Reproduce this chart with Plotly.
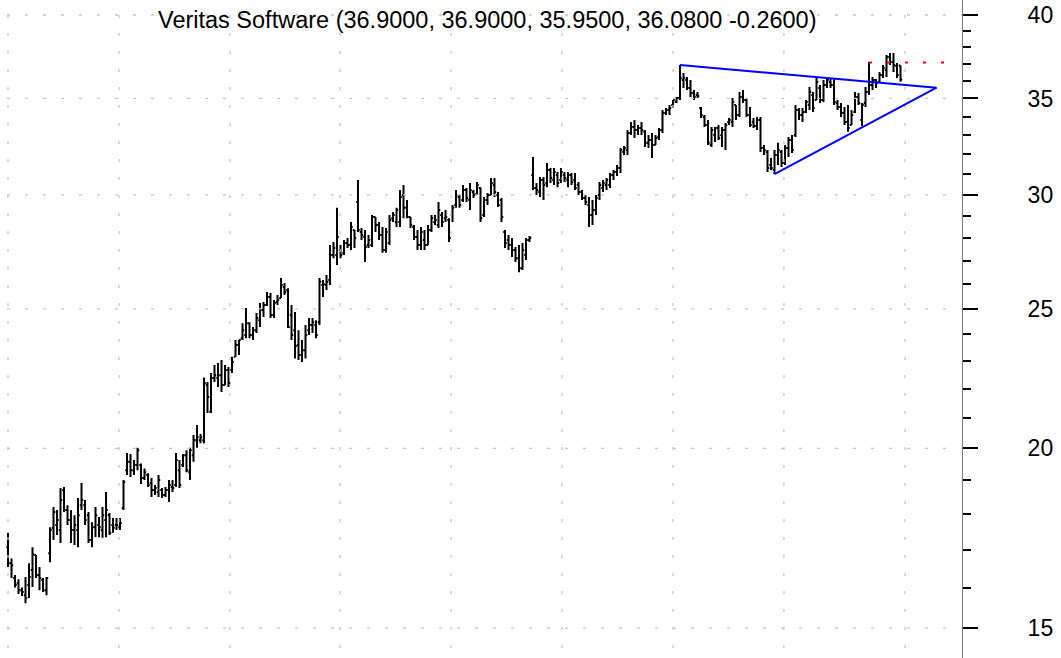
import math
import plotly.graph_objects as go

# ---------------- data ----------------
highs = [17.47,16.77,16.33,16.22,16.01,16.28,16.64,17.07,16.86,16.54,16.25,16.28,17.63,18.21,18.12,18.77,18.80,18.26,18.12,17.97,
         18.47,18.92,18.41,18.06,17.77,18.21,17.92,18.21,18.65,18.03,17.89,17.89,17.89,19.01,19.85,19.82,19.63,20.02,19.52,19.36,
         19.22,19.07,18.86,19.16,18.77,18.80,19.01,19.01,19.85,19.63,19.82,19.94,20.02,20.43,20.76,20.46,22.40,22.24,22.56,22.85,
         22.92,23.03,22.85,22.78,23.15,23.78,23.78,24.43,25.03,24.47,24.28,24.83,25.23,25.27,25.68,25.64,25.35,25.56,26.26,26.05,
         25.84,25.15,24.87,24.16,23.78,24.36,24.63,24.63,24.55,26.26,26.18,26.39,27.69,27.82,29.38,27.69,27.91,28.00,28.72,28.36,
         30.72,28.45,28.36,28.13,29.05,28.95,28.72,28.50,28.45,29.05,29.19,29.38,30.23,30.47,29.75,28.95,28.59,28.36,28.50,28.36,
         28.59,29.05,29.05,29.66,29.19,29.28,28.90,29.52,30.23,29.99,30.47,30.33,30.57,30.23,30.62,30.37,29.90,30.09,30.82,30.82,
         30.13,29.85,28.36,28.13,28.00,27.60,27.69,27.78,28.00,28.09,31.87,30.57,30.87,30.87,31.57,31.31,31.31,31.11,31.31,31.11,
         31.11,31.06,31.06,30.62,30.23,29.99,29.90,29.75,29.99,30.62,30.72,30.82,31.06,31.21,31.47,32.33,32.44,33.28,33.70,33.81,
         33.55,33.70,33.28,33.01,33.12,33.01,33.39,34.36,34.47,34.64,34.91,35.08,36.92,36.46,36.22,36.05,35.48,35.36,34.53,34.09,
         33.81,33.44,33.44,33.55,33.44,33.65,33.92,35.02,34.64,35.36,35.48,35.02,34.53,33.92,33.98,33.98,32.49,32.23,31.82,32.23,
         32.60,32.23,32.49,32.91,33.01,34.64,34.47,34.47,34.91,35.65,35.36,36.17,35.76,36.05,36.17,36.17,36.17,34.91,34.75,34.53,
         34.64,34.36,35.36,35.30,34.75,35.65,37.10,36.22,36.11,36.51,36.92,37.52,37.64,37.64,37.04,36.90]
lows = [16.54,16.25,16.01,15.84,15.79,15.61,15.74,16.02,16.25,15.94,15.89,15.81,16.67,17.27,17.41,17.19,18.06,17.69,17.19,17.13,
        17.07,18.12,17.69,17.19,17.07,17.35,17.35,17.33,17.35,17.41,17.47,17.55,17.55,18.12,19.16,19.10,19.16,19.31,18.89,19.01,
        18.80,18.50,18.56,18.50,18.47,18.50,18.35,18.65,18.80,18.77,19.41,19.25,19.01,19.57,20.02,20.16,20.16,21.16,21.16,22.24,
        22.06,21.88,22.13,22.06,22.56,23.15,23.22,23.78,23.85,23.85,23.78,24.05,24.28,24.67,25.11,24.63,24.63,25.15,25.44,25.56,
        24.24,23.78,23.09,23.03,22.96,23.09,23.97,24.05,23.85,24.36,25.48,25.76,25.97,27.11,26.81,27.11,27.25,27.55,27.46,27.55,
        28.27,27.91,26.94,27.55,27.60,28.27,27.91,27.34,27.34,27.69,28.72,28.50,28.50,28.90,28.90,28.45,27.91,27.46,27.46,27.46,
        27.69,28.27,28.59,28.45,28.50,28.72,27.82,28.72,29.38,29.38,29.66,29.66,29.28,29.85,29.99,28.72,28.95,29.52,29.99,29.90,
        29.42,28.72,27.55,27.46,27.16,26.94,26.51,26.60,27.03,27.82,30.23,29.99,29.90,29.75,30.37,30.57,30.47,30.37,30.57,30.62,
        30.37,30.47,30.23,29.99,29.75,29.52,28.50,28.59,29.05,29.75,30.13,30.23,30.33,30.72,30.92,31.06,31.97,31.97,33.01,32.86,
        33.01,33.01,32.39,32.33,31.82,32.49,32.75,33.12,34.09,34.09,34.47,34.75,34.91,35.59,35.48,35.08,34.91,35.02,33.92,33.44,
        32.49,32.39,32.65,32.75,32.39,32.23,33.55,33.44,33.81,33.98,34.75,33.98,33.44,33.39,33.28,32.13,31.97,31.11,31.21,31.01,
        31.47,31.37,31.47,31.87,32.07,32.91,33.81,33.70,34.20,34.36,34.25,34.91,34.75,34.80,35.59,35.59,34.64,34.36,33.98,33.55,
        33.18,33.55,34.20,34.64,33.49,34.53,35.19,35.48,35.59,35.88,36.17,36.22,36.92,36.51,36.17,35.95]
opens = [17.07,16.64,16.25,16.12,15.94,15.81,16.07,16.46,16.86,16.33,16.20,15.94,16.91,17.61,17.69,17.55,18.71,18.12,17.83,17.55,
         17.55,18.26,18.26,17.97,17.27,17.63,17.69,17.55,17.83,17.97,17.69,17.69,17.63,18.18,19.31,19.57,19.31,19.47,19.47,19.07,
         19.16,18.92,18.71,18.65,18.71,18.56,18.71,18.80,18.86,19.31,19.47,19.78,19.25,19.78,20.26,20.26,20.26,22.13,21.20,22.38,
         22.38,22.48,22.13,22.67,22.67,23.15,23.59,23.85,23.97,24.43,23.97,24.16,24.55,24.95,25.15,25.48,24.75,25.27,25.44,25.89,
         25.76,24.75,24.16,23.59,23.22,23.40,24.16,24.36,24.36,24.47,25.97,25.97,26.18,27.25,27.25,27.46,27.32,27.78,27.69,28.36,
         29.66,28.27,28.04,27.69,27.69,28.95,28.59,28.13,27.46,27.78,28.90,28.72,28.72,29.99,29.38,28.95,28.50,28.04,27.69,27.91,
         27.69,28.36,28.72,28.59,29.05,28.90,28.81,29.05,29.52,29.90,29.75,30.23,29.75,30.13,30.04,30.33,29.05,29.75,29.99,30.47,
         29.99,29.75,28.27,27.91,27.69,27.46,27.11,26.68,27.25,27.91,30.97,30.33,30.13,30.72,30.57,31.21,30.72,30.97,30.72,30.97,
         30.72,30.97,30.72,30.47,30.13,29.85,29.52,29.05,29.28,29.99,30.33,30.47,30.47,30.97,31.11,31.31,32.13,32.23,33.12,33.44,
         33.28,33.39,33.18,32.60,32.75,32.49,32.91,33.28,34.20,34.36,34.64,34.80,35.02,36.05,36.05,35.59,35.30,35.19,34.47,33.98,
         33.55,32.49,33.01,33.39,33.01,33.28,33.70,33.70,34.64,34.09,35.08,34.91,34.09,33.70,33.49,33.81,32.33,32.13,31.47,31.21,
         31.97,32.13,31.57,32.33,32.75,33.01,34.36,34.09,34.25,34.64,35.19,34.91,35.59,34.91,35.76,35.94,35.76,34.75,34.53,34.20,
         33.70,33.55,34.25,35.08,33.81,34.75,35.36,35.76,36.05,35.94,36.34,36.63,37.40,37.10,36.86,36.90]
closes = [16.64,16.59,16.07,15.94,15.89,15.74,16.28,16.88,16.33,16.25,15.94,16.25,17.55,18.06,17.83,18.41,18.12,17.83,17.55,17.69,
          17.97,18.41,17.83,17.27,17.63,17.97,17.63,17.97,18.12,17.47,17.61,17.69,17.75,18.95,19.57,19.31,19.47,19.94,19.07,19.25,
          18.86,18.71,18.77,19.01,18.56,18.71,18.86,18.77,19.63,18.86,19.78,19.31,19.94,20.26,20.36,20.36,22.20,21.71,22.38,22.48,
          22.48,22.13,22.67,22.20,22.96,23.59,23.78,24.16,24.43,23.97,24.16,24.63,24.95,25.15,25.48,24.75,25.23,25.35,25.97,25.68,
          24.28,23.97,23.55,23.22,23.40,23.97,24.36,24.47,23.97,26.10,26.01,26.10,27.25,27.55,28.04,27.25,27.78,27.69,28.50,28.00,
          28.36,28.13,27.60,27.91,28.95,28.59,28.13,27.46,28.27,28.81,29.05,29.28,29.90,29.38,28.95,28.59,28.04,27.69,28.27,27.69,
          28.36,28.90,28.81,29.28,28.72,28.95,28.00,29.38,29.99,29.52,30.23,29.85,30.23,29.99,30.47,28.90,29.75,29.99,30.57,30.13,
          29.52,28.95,27.78,27.69,27.46,27.11,26.68,27.46,27.91,28.00,30.33,30.23,30.72,30.47,31.21,30.82,31.11,30.57,31.11,30.82,
          30.97,30.62,30.33,30.13,29.85,29.66,29.05,29.28,29.85,30.47,30.57,30.72,30.97,31.11,31.31,32.23,32.33,33.12,33.44,33.28,
          33.39,33.28,32.60,32.75,32.49,32.86,33.28,34.20,34.36,34.47,34.91,35.02,36.17,36.17,35.59,35.30,35.08,35.13,34.09,33.55,
          32.60,33.28,33.39,32.86,33.28,33.55,33.81,34.80,34.09,35.08,34.91,34.09,33.55,33.49,33.81,32.33,32.23,31.31,31.31,31.97,
          32.23,31.57,32.33,32.75,32.23,34.36,34.09,34.25,34.80,35.36,34.47,35.94,34.91,35.76,36.05,35.76,34.80,34.53,34.20,33.70,
          33.39,34.09,35.08,34.75,34.64,35.36,35.76,36.05,35.88,36.34,36.75,37.40,37.10,36.92,36.34,36.08]
bar_index = list(range(len(closes)))

upper_trend_x = [192, 265.3]
upper_trend_y = [36.92, 35.61]
lower_trend_x = [219, 265.3]
lower_trend_y = [31.01, 35.61]
resist_x = [246, 267.7]
resist_y = [37.07, 37.07]

price_ticks = [15, 20, 25, 30, 35, 40]
minor_ticks = [v for v in range(15, 42) if v not in price_ticks]
grid_x = [0, 31.7, 63.4, 94.9, 126.6, 158.3, 190, 221.7, 256.3]
title_name = "Veritas Software"

# ---------------- figure ----------------
X_RANGE = [-8 / 3.5, (962 - 8) / 3.5]
Y_LO, Y_HI = 14.30, 40.97
GRID_DASH = "3px,15px"
GRID_COL = "#c4c4c4"

fig = go.Figure()

for p in price_ticks:
    fig.add_trace(go.Scatter(x=[-1 / 3.5, X_RANGE[1]], y=[p, p], mode="lines",
                             line=dict(color=GRID_COL, width=1.3, dash=GRID_DASH),
                             hoverinfo="skip", showlegend=False))
for gx in grid_x:
    fig.add_trace(go.Scatter(x=[gx, gx], y=[41.17, 14.0], mode="lines",
                             line=dict(color=GRID_COL, width=1.3, dash=GRID_DASH),
                             hoverinfo="skip", showlegend=False))

fig.add_trace(go.Ohlc(x=bar_index, open=opens, high=highs, low=lows, close=closes,
                      increasing=dict(line=dict(color="black", width=2)),
                      decreasing=dict(line=dict(color="black", width=2)),
                      tickwidth=0.5, hoverinfo="skip", showlegend=False))

fig.add_trace(go.Scatter(x=upper_trend_x, y=upper_trend_y, mode="lines",
                         line=dict(color="#0000ff", width=2), hoverinfo="skip", showlegend=False))
fig.add_trace(go.Scatter(x=lower_trend_x, y=lower_trend_y, mode="lines",
                         line=dict(color="#0000ff", width=2), hoverinfo="skip", showlegend=False))
fig.add_trace(go.Scatter(x=resist_x, y=resist_y, mode="lines",
                         line=dict(color="#ff0000", width=2, dash=GRID_DASH),
                         hoverinfo="skip", showlegend=False))

o, h, l, c = opens[-1], highs[-1], lows[-1], closes[-1]
chg = c - closes[-2]
title_text = f"{title_name} ({o:.4f}, {h:.4f}, {l:.4f}, {c:.4f} {chg:.4f})"

FONT = "Liberation Sans, Arial, Helvetica, sans-serif"
fig.add_annotation(text=title_text, xref="paper", yref="paper", x=486.7 / 962, y=1 - 20 / 658,
                   xanchor="center", yanchor="middle", showarrow=False,
                   font=dict(family=FONT, size=23.5, color="black"))

fig.update_layout(
    width=1061, height=658,
    margin=dict(l=0, r=99, t=0, b=0, autoexpand=False),
    paper_bgcolor="white", plot_bgcolor="white",
    showlegend=False, hovermode=False,
    font=dict(family=FONT, color="black"),
    xaxis=dict(range=X_RANGE, showgrid=False, zeroline=False, showline=False, automargin=False,
               showticklabels=False, ticks="", rangeslider=dict(visible=False)),
    yaxis=dict(type="log", range=[math.log10(Y_LO), math.log10(Y_HI)], side="right",
               automargin=False,
               showgrid=False, zeroline=False, showline=True, linecolor="#7a7a7a", linewidth=1,
               ticks="outside", ticklen=15, tickwidth=2, tickcolor="black",
               tickmode="array", tickvals=price_ticks, ticktext=[str(v) for v in price_ticks],
               tickfont=dict(family=FONT, size=23, color="black"),
               ticklabelstandoff=45,
               minor=dict(tickmode="array", tickvals=minor_ticks, ticks="outside",
                          ticklen=8, tickwidth=2, tickcolor="black", showgrid=False)),
)

fig.write_html("out.html", config={"displayModeBar": False},
               post_script="document.body.style.margin='0px';document.body.style.padding='0px';")
